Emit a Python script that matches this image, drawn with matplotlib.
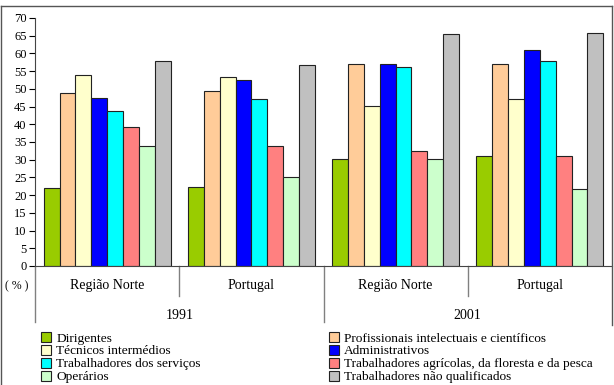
import numpy as np
import matplotlib
matplotlib.use('Agg')
import matplotlib.pyplot as plt
from matplotlib.lines import Line2D
from matplotlib.patches import Patch
from matplotlib.transforms import blended_transform_factory

plt.rcParams['font.family'] = ['Liberation Serif', 'DejaVu Serif']

# Dados (%)
grupos = ['Região Norte', 'Portugal', 'Região Norte', 'Portugal']
anos = ['1991', '2001']
categorias = ['Dirigentes', 'Profissionais intelectuais e científicos',
              'Técnicos intermédios', 'Administrativos',
              'Trabalhadores dos serviços',
              'Trabalhadores agrícolas, da floresta e da pesca',
              'Operários', 'Trabalhadores não qualificados']
dirigentes = [21.9, 22.2, 30.3, 31.1]
profissionais = [48.8, 49.4, 57.1, 57.1]
tecnicos = [54.0, 53.3, 45.3, 47.1]
administrativos = [47.5, 52.6, 57.1, 61.1]
servicos = [43.8, 47.1, 56.3, 58.0]
agricolas = [39.3, 33.8, 32.5, 31.1]
operarios = [33.8, 25.0, 30.1, 21.8]
nao_qualificados = [58.0, 56.7, 65.4, 65.7]

series = [dirigentes, profissionais, tecnicos, administrativos,
          servicos, agricolas, operarios, nao_qualificados]
cores = ['#99CC00', '#FFCC99', '#FFFFCC', '#0000FF',
         '#00FFFF', '#FF8080', '#CCFFCC', '#C0C0C0']

fig = plt.figure(figsize=(6.14, 3.85), dpi=100)
ax = fig.add_axes([35/614, 1-266/385, 577/614, 248/385])

x = np.arange(len(grupos))
w = 0.11
for i, (vals, cor) in enumerate(zip(series, cores)):
    ax.bar(x + (i - 3.5)*w, vals, w, color=cor, edgecolor='#222222',
           linewidth=0.8, label=categorias[i])

ax.set_xlim(-0.5, 3.5)
ax.set_ylim(0, 70)
ax.set_yticks(range(0, 71, 5))
ax.set_xticks([])
ax.tick_params(axis='y', direction='out', length=4, labelsize=9, pad=2)
for s in ['top', 'right']:
    ax.spines[s].set_visible(False)
ax.spines['left'].set_color('#444444')
ax.spines['bottom'].set_color('#444444')

# Eixo de categorias em dois níveis
tr = blended_transform_factory(ax.transData, ax.transAxes)
for xs, y0 in [(-0.5, -0.226), (0.5, -0.121), (1.5, -0.226), (2.5, -0.121)]:
    ax.plot([xs, xs], [0, y0], color='#808080', lw=1, transform=tr, clip_on=False)
for xi, g in zip(x, grupos):
    ax.text(xi, -0.08, g, transform=tr, ha='center', va='center', fontsize=10)
for k, ano in enumerate(anos):
    ax.text(0.5 + 2*k, -0.198, ano, transform=tr, ha='center', va='center', fontsize=10)
fig.text(17/614, 1-286/385, '( % )', ha='center', va='center', fontsize=8.5)

# Legenda
handles = [Patch(facecolor=c, edgecolor='#222222', linewidth=0.8) for c in cores]
kw = dict(frameon=False, fontsize=9.6, handlelength=0.75, handleheight=0.75,
          handletextpad=0.4, labelspacing=0.03, borderpad=0, borderaxespad=0)
fig.legend(handles[0::2], categorias[0::2], loc='upper left',
           bbox_to_anchor=(41/614, 1-332/385), **kw)
fig.legend(handles[1::2], categorias[1::2], loc='upper left',
           bbox_to_anchor=(329/614, 1-332/385), **kw)

# Moldura
c = '#555555'
fig.add_artist(Line2D([1.5/614, 1.5/614], [0, 1-6/385], color=c, lw=1))
fig.add_artist(Line2D([1.5/614, 611.5/614], [1-6/385, 1-6/385], color=c, lw=1))
fig.add_artist(Line2D([611.5/614, 611.5/614], [1-6/385, 1-325/385], color=c, lw=1))

fig.savefig('out.png', dpi=100)
